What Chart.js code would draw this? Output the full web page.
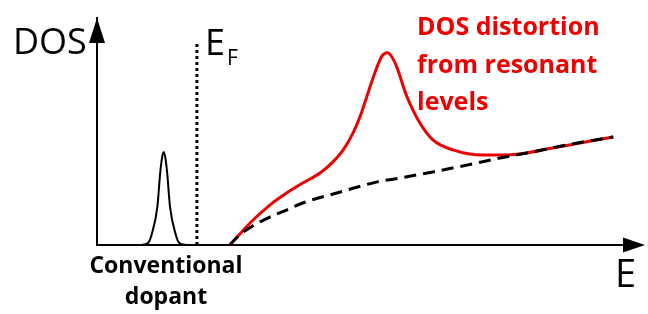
<!DOCTYPE html>
<html>
<head>
<meta charset="utf-8">
<script src="https://cdn.jsdelivr.net/npm/chart.js@4.4.1/dist/chart.umd.min.js"></script>
<style>
    html, body { margin: 0; padding: 0; background: #fff; }
    #wrap { width: 648px; height: 314px; }
</style>
</head>
<body>
<div id="wrap"><canvas id="dosChart"></canvas></div>
<script>
// Conventional dopant level (narrow peak below E_F)
const dopantE   = [0.81, 0.95, 1.02, 1.118, 1.17, 1.205, 1.235, 1.265, 1.30, 1.352, 1.45, 1.52, 1.66];
const dopantDos = [0, 0.1, 0.53, 1.69, 3.17, 3.85, 4.1, 3.85, 3.17, 1.69, 0.53, 0.1, 0];

// Fermi level marker
const fermiE   = [1.85, 1.85];
const fermiDos = [0, 8.9];

// Unperturbed band DOS (dashed)
const hostE   = [2.46, 2.62, 2.89, 3.20, 3.51, 3.81, 4.44, 5.19, 5.61, 6.22, 6.85, 7.46, 8.07, 8.70, 9.56];
const hostDos = [0, 0.40, 0.85, 1.23, 1.54, 1.85, 2.29, 2.78, 2.95, 3.22, 3.52, 3.83, 4.10, 4.41, 4.76];

// DOS distorted by resonant levels (red)
const resonantE   = [2.46, 2.89, 3.20, 3.51, 3.81, 4.13, 4.37, 4.56, 4.74, 4.87, 5.12, 5.27, 5.38, 5.52, 5.74, 5.98, 6.22, 6.59, 7.15, 7.78, 8.39, 9.56];
const resonantDos = [0, 1.10, 1.76, 2.29, 2.73, 3.17, 3.66, 4.19, 4.93, 5.65, 7.41, 8.30, 8.47, 8.02, 6.53, 5.37, 4.63, 4.19, 3.96, 4.00, 4.25, 4.76];

const RED = '#ee0000';

function toPoints(xs, ys) {
    return xs.map((x, i) => ({ x: x, y: ys[i] }));
}

// Arrowheads and text labels
const annotations = {
    id: 'annotations',
    afterDraw(chart) {
        const { ctx, chartArea: { left, right, top, bottom }, scales: { x } } = chart;
        ctx.save();
        ctx.fillStyle = '#000';
        ctx.strokeStyle = '#000';
        ctx.lineWidth = 2;

        // x axis extension + arrow
        ctx.beginPath();
        ctx.moveTo(right, bottom);
        ctx.lineTo(right - 10, bottom);
        ctx.stroke();
        ctx.beginPath();
        ctx.moveTo(right + 8, bottom);
        ctx.lineTo(right - 14, bottom - 7.5);
        ctx.lineTo(right - 14, bottom + 7.5);
        ctx.closePath();
        ctx.fill();

        // y axis arrow
        ctx.beginPath();
        ctx.moveTo(left, top);
        ctx.lineTo(left - 8, top + 25);
        ctx.lineTo(left + 8, top + 25);
        ctx.closePath();
        ctx.fill();

        // axis labels
        ctx.textBaseline = 'alphabetic';
        ctx.textAlign = 'left';
        ctx.font = '36px "Open Sans"';
        ctx.fillText('DOS', 13, 54);
        ctx.font = '38px "Open Sans"';
        ctx.fillText('E', 615, 287);

        // Fermi level label
        const fx = x.getPixelForValue(fermiE[0]);
        ctx.font = '36px "Open Sans"';
        ctx.fillText('E', fx + 8, 55);
        ctx.font = '21px "Open Sans"';
        ctx.fillText('F', fx + 30, 65);

        // dopant label
        ctx.textAlign = 'center';
        ctx.font = 'bold 23px "Open Sans"';
        ctx.fillText('Conventional', 166, 273);
        ctx.fillText('dopant', 166, 304);

        // resonant label
        ctx.textAlign = 'left';
        ctx.fillStyle = RED;
        ctx.font = 'bold 25px "Open Sans"';
        ctx.fillText('DOS distortion', 417, 35);
        ctx.fillText('from resonant', 417, 72.5);
        ctx.fillText('levels', 417, 110);
        ctx.restore();
    }
};

document.addEventListener('DOMContentLoaded', function() {
    const ctx = document.getElementById('dosChart').getContext('2d');
    new Chart(ctx, {
        type: 'line',
        data: {
            datasets: [
                {
                    label: 'Resonant',
                    data: toPoints(resonantE, resonantDos),
                    borderColor: RED,
                    borderWidth: 3,
                    cubicInterpolationMode: 'monotone',
                    pointRadius: 0,
                    clip: false,
                    order: 3
                },
                {
                    label: 'Host',
                    data: toPoints(hostE, hostDos),
                    borderColor: '#000',
                    borderWidth: 3,
                    borderDash: [12, 7],
                    cubicInterpolationMode: 'monotone',
                    pointRadius: 0,
                    clip: false,
                    order: 2
                },
                {
                    label: 'Dopant',
                    data: toPoints(dopantE, dopantDos),
                    borderColor: '#000',
                    borderWidth: 2,
                    cubicInterpolationMode: 'monotone',
                    pointRadius: 0,
                    clip: false,
                    order: 1
                },
                {
                    label: 'EF',
                    data: toPoints(fermiE, fermiDos),
                    borderColor: '#000',
                    borderWidth: 3,
                    borderDash: [3, 3],
                    pointRadius: 0,
                    clip: false,
                    order: 1
                }
            ]
        },
        options: {
            responsive: true,
            maintainAspectRatio: false,
            animation: false,
            layout: {
                padding: { left: 89, right: 11, top: 18, bottom: 61 }
            },
            plugins: {
                legend: { display: false },
                tooltip: { enabled: false }
            },
            scales: {
                x: {
                    type: 'linear',
                    min: 0,
                    max: 10,
                    grid: { display: false },
                    ticks: { display: false },
                    border: { display: true, color: '#000', width: 2 }
                },
                y: {
                    min: 0,
                    max: 10,
                    grid: { display: false },
                    ticks: { display: false },
                    border: { display: true, color: '#000', width: 2 }
                }
            }
        },
        plugins: [annotations]
    });
});
</script>
</body>
</html>
